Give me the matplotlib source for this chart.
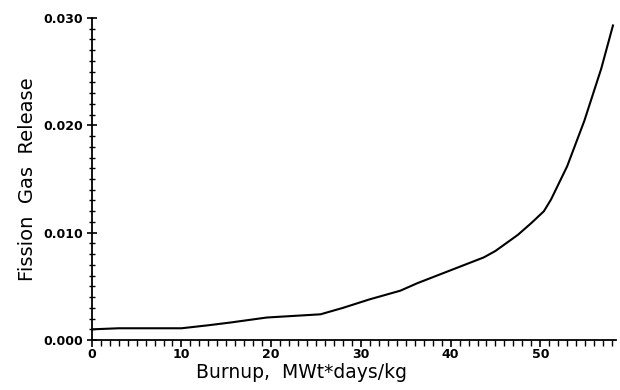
import numpy as np
import matplotlib
matplotlib.use("Agg")
import matplotlib.pyplot as plt
from matplotlib.ticker import MultipleLocator, FormatStrFormatter

# burnup (MWt*days/kg) and fission gas release
burnup = [0, 3, 10, 13, 15.5, 19.5, 25.5, 28, 31, 34.4, 36.3, 40, 43.7, 45,
          47.5, 49, 50.4, 51.2, 53, 54.9, 56.8, 58.1]
fgr = [0.0010, 0.0011, 0.0011, 0.00138, 0.00164, 0.0021, 0.0024, 0.0030,
       0.0038, 0.0046, 0.0053, 0.0065, 0.0077, 0.0083, 0.0098, 0.0109,
       0.0120, 0.0131, 0.0162, 0.0204, 0.0253, 0.0293]

x_ticks = [0, 10, 20, 30, 40, 50]
y_ticks = [0.000, 0.010, 0.020, 0.030]

fig = plt.figure(figsize=(6.2, 3.9), dpi=100)
ax = fig.add_axes([0.148, 0.128, 0.845, 0.826])

ax.plot(burnup, fgr, color='black', linewidth=1.5)

ax.set_xlim(0, 58.4)
ax.set_ylim(0, 0.030)
ax.set_xticks(x_ticks)
ax.set_yticks(y_ticks)
ax.xaxis.set_minor_locator(MultipleLocator(1))
ax.yaxis.set_minor_locator(MultipleLocator(0.001))
ax.yaxis.set_major_formatter(FormatStrFormatter('%.3f'))

for s in ['top', 'right']:
    ax.spines[s].set_visible(False)
for s in ['left', 'bottom']:
    ax.spines[s].set_linewidth(1.3)

ax.tick_params(axis='x', which='major', direction='out', length=5, width=1.2, pad=1)
ax.tick_params(axis='x', which='minor', direction='out', length=4, width=1.0)
ax.tick_params(axis='y', which='major', direction='inout', length=7, width=1.2, pad=3)
ax.tick_params(axis='y', which='minor', direction='inout', length=4, width=1.0)
for lab in ax.get_xticklabels() + ax.get_yticklabels():
    lab.set_fontsize(9)
    lab.set_fontweight('bold')

ax.set_xlabel('Burnup,  MWt*days/kg', fontsize=13.5)
ax.xaxis.set_label_coords(0.40, -0.072)
ax.set_ylabel('Fission  Gas  Release', fontsize=14, labelpad=4)

fig.savefig('out.png', dpi=100)
